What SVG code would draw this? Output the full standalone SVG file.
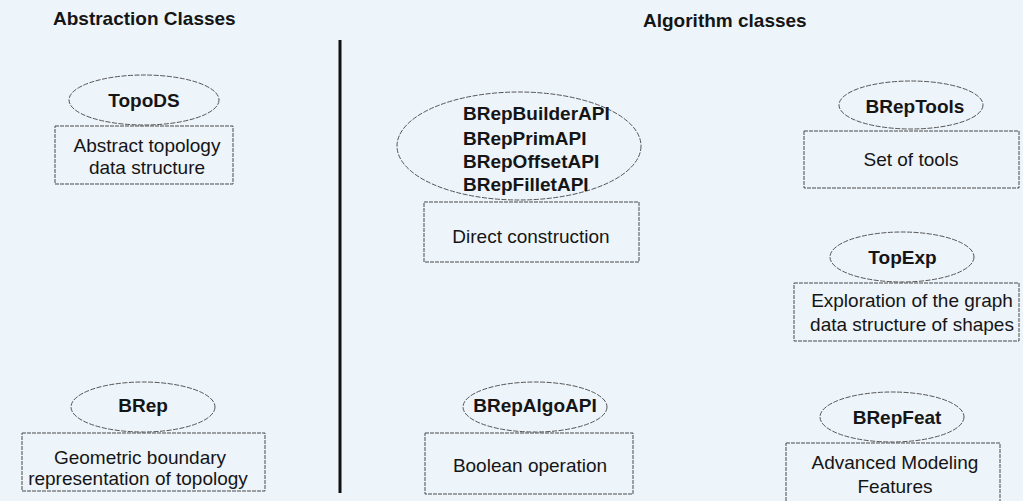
<svg xmlns="http://www.w3.org/2000/svg" width="1023" height="501" viewBox="0 0 1023 501">
<style>
.bg{fill:#edf4fa}
.ell{fill:none;stroke:#555;stroke-width:1;stroke-dasharray:5 1.5}
.box{fill:none;stroke:#4a4a4a;stroke-width:1;stroke-dasharray:4 1}
.t{font-family:"Liberation Sans",Arial,sans-serif;font-size:19px;fill:#151515;text-anchor:middle}
.b{font-weight:bold}
.s{text-anchor:start}
</style>
<rect class="bg" x="0" y="0" width="1023" height="501"/>
<text class="t b s" x="53" y="25">Abstraction Classes</text>
<text class="t b s" x="643" y="27">Algorithm classes</text>
<g id="connectors">
<line x1="340" y1="40" x2="340" y2="493" stroke="#111" stroke-width="3"/>
</g>
<g id="topods">
<ellipse class="ell" cx="144" cy="100" rx="75" ry="25"/>
<text class="t b" x="144" y="106.5">TopoDS</text>
<rect class="box" x="55" y="126" width="178" height="58"/>
<text class="t" x="147" y="152">Abstract topology</text>
<text class="t" x="147" y="174">data structure</text>
</g>
<g id="brep">
<ellipse class="ell" cx="143" cy="407" rx="72" ry="25"/>
<text class="t b" x="143" y="412">BRep</text>
<rect class="box" x="22" y="433" width="243" height="58"/>
<text class="t" x="140" y="464">Geometric boundary</text>
<text class="t" x="138" y="485">representation of topology</text>
</g>
<g id="brepbuilderapi">
<ellipse class="ell" cx="519" cy="146" rx="122" ry="54"/>
<text class="t b s" x="463" y="120">BRepBuilderAPI</text>
<text class="t b s" x="463" y="145">BRepPrimAPI</text>
<text class="t b s" x="463" y="168">BRepOffsetAPI</text>
<text class="t b s" x="463" y="191">BRepFilletAPI</text>
<rect class="box" x="424" y="202" width="215" height="60"/>
<text class="t" x="531" y="243">Direct construction</text>
</g>
<g id="breptools">
<ellipse class="ell" cx="911" cy="105" rx="72" ry="24"/>
<text class="t b" x="915" y="112.5">BRepTools</text>
<rect class="box" x="804" y="131" width="215" height="57"/>
<text class="t" x="911" y="166">Set of tools</text>
</g>
<g id="topexp">
<ellipse class="ell" cx="902" cy="257" rx="72" ry="25"/>
<text class="t b" x="902.5" y="264">TopExp</text>
<rect class="box" x="794" y="283" width="225" height="58"/>
<text class="t" x="912" y="306.5">Exploration of the graph</text>
<text class="t" x="912" y="330.5">data structure of shapes</text>
</g>
<g id="brepalgoapi">
<ellipse class="ell" cx="535" cy="407" rx="72" ry="25"/>
<text class="t b" x="535" y="412">BRepAlgoAPI</text>
<rect class="box" x="425" y="433" width="208" height="61"/>
<text class="t" x="530" y="471.5">Boolean operation</text>
</g>
<g id="brepfeat">
<ellipse class="ell" cx="892" cy="417" rx="72" ry="25"/>
<text class="t b" x="897" y="424">BRepFeat</text>
<rect class="box" x="786" y="443" width="214" height="70"/>
<text class="t" x="895" y="469">Advanced Modeling</text>
<text class="t" x="895" y="493">Features</text>
</g>
</svg>
